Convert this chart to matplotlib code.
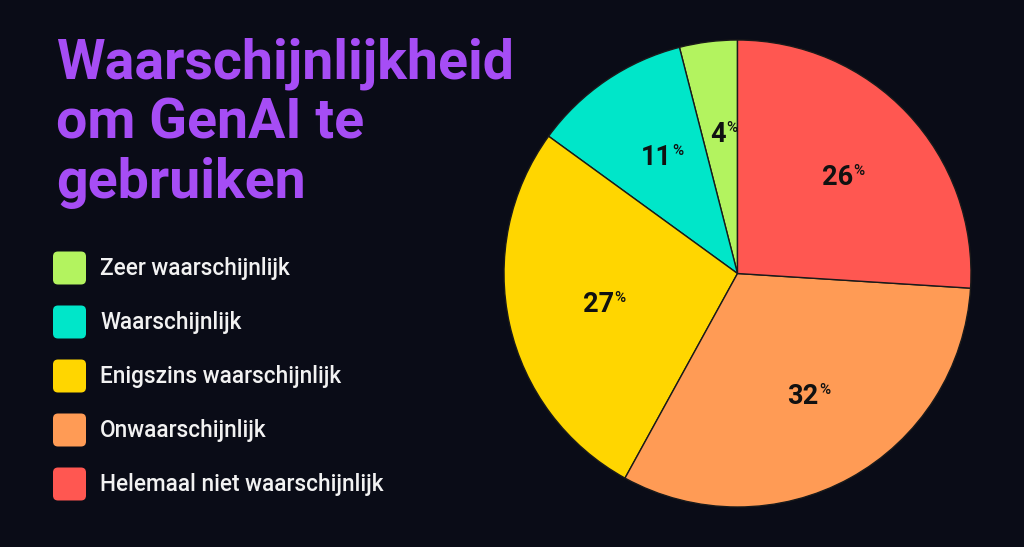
import matplotlib.pyplot as plt
from matplotlib.patches import FancyBboxPatch
import numpy as np

# data
labels = ["Zeer waarschijnlijk", "Waarschijnlijk", "Enigszins waarschijnlijk",
          "Onwaarschijnlijk", "Helemaal niet waarschijnlijk"]
values = [4, 11, 27, 32, 26]
colors = ["#b3f35f", "#00e6c9", "#ffd600", "#ff9b55", "#ff5751"]
title = "Waarschijnlijkheid\nom GenAI te\ngebruiken"

BG = "#0a0c17"
W, H = 1024, 547

plt.rcParams["font.family"] = ["Roboto", "DejaVu Sans"]

fig = plt.figure(figsize=(W / 100, H / 100), dpi=100, facecolor=BG)

# overlay in pixel coords for title + legend
ov = fig.add_axes([0, 0, 1, 1])
ov.set_xlim(0, W)
ov.set_ylim(H, 0)
ov.axis("off")

ov.text(56, 37, title, color="#a64df5", fontsize=40, fontweight="bold",
        va="top", ha="left", linespacing=1.19)

for i, (lab, col) in enumerate(zip(labels, colors)):
    yc = 268 + i * 54
    box = FancyBboxPatch((53 + 5, yc - 16.5 + 5), 33 - 10, 33 - 10,
                         boxstyle="round,pad=5", fc=col, ec="none")
    ov.add_patch(box)
    ov.text(100, yc + 1, lab, color="#f2f2f2", fontsize=16.3,
            va="center", ha="left", fontweight="medium")

# pie
cx, cy, r = 737.5, 273.5, 233.5
ax = fig.add_axes([(cx - r) / W, (H - cy - r) / H, 2 * r / W, 2 * r / H])
ax.set_facecolor(BG)
wedges, _ = ax.pie(values, colors=colors, startangle=90, counterclock=True,
                   radius=1, wedgeprops=dict(edgecolor="#1a1a1a", linewidth=1))
ax.set_xlim(-1, 1)
ax.set_ylim(-1, 1)
ax.axis("off")

for w, v in zip(wedges, values):
    ang = np.deg2rad((w.theta1 + w.theta2) / 2)
    x, y = 0.6 * np.cos(ang), 0.6 * np.sin(ang)
    t = ax.text(x - 0.01, y, str(v), fontsize=19.5, fontweight="bold",
                color="#111111", ha="center", va="center")
    ax.annotate("%", xy=(1, 1), xycoords=t, xytext=(0.5, 0),
                textcoords="offset points", fontsize=11, fontweight="medium",
                color="#111111", ha="left", va="top")

fig.savefig("out.png", dpi=100, facecolor=BG)
